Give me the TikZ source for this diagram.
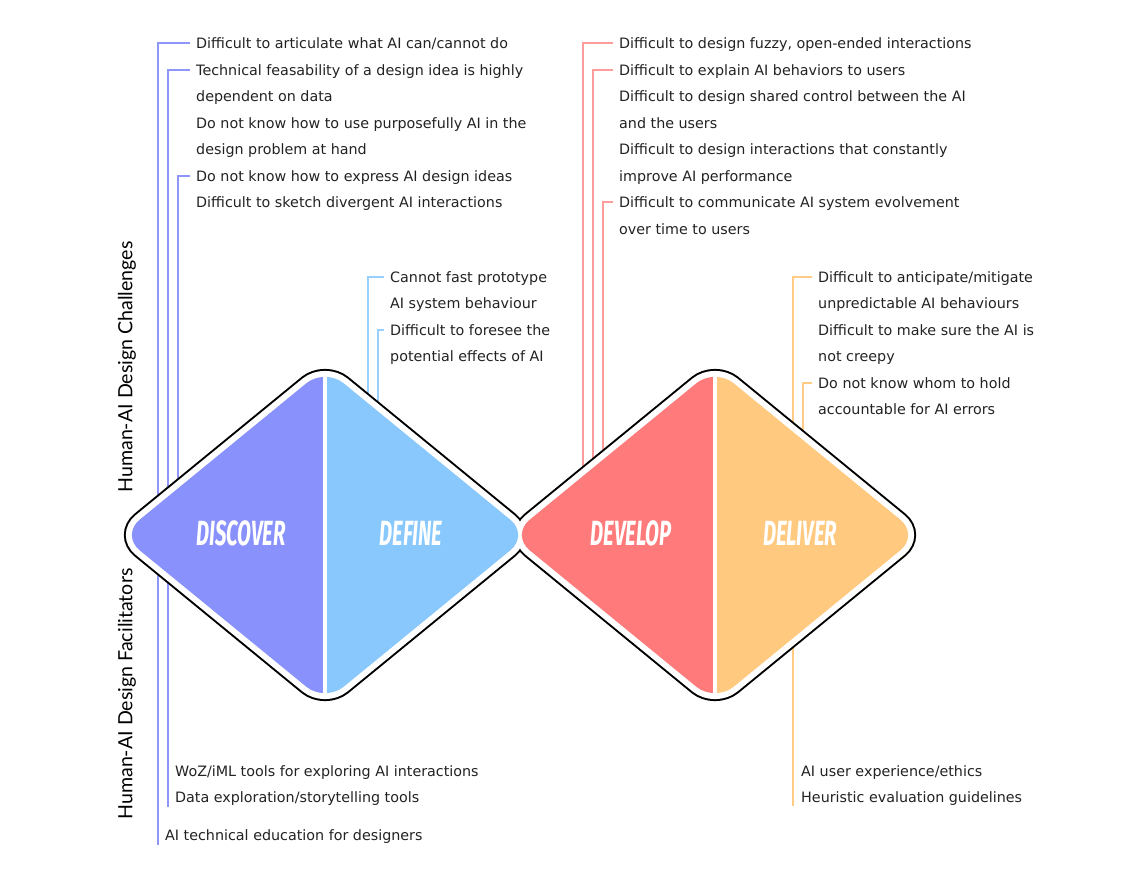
\documentclass[tikz,border=0pt]{standalone}
\usepackage{fontspec}
\setmainfont{DejaVu Sans}
\newfontfamily\sidefont{Lato}
\newfontfamily\phasefont[FakeStretch=0.58]{Fira Sans}
\usetikzlibrary{positioning}
\definecolor{discover}{HTML}{8891FC}
\definecolor{define}{HTML}{88C8FD}
\definecolor{develop}{HTML}{FF7B7B}
\definecolor{deliver}{HTML}{FFC980}
\definecolor{discline}{HTML}{8F96FA}
\definecolor{defline}{HTML}{98CFFF}
\definecolor{devline}{HTML}{FF9C9C}
\definecolor{delline}{HTML}{FFCB85}
\definecolor{txt}{HTML}{222222}

\begin{document}
\begin{tikzpicture}[x=1pt, y=-1pt,
  item/.style={anchor=west, inner xsep=6pt, inner ysep=0pt, text height=10.4pt, text depth=0pt,
    text=txt, font=\fontsize{14.3}{17}\selectfont},
  tick/.style={line width=1.5pt},
  outline/.style={draw=black, line width=16pt, rounded corners=24pt},
  gap/.style={draw=white, fill=white, line width=12pt, rounded corners=24pt},
  half/.style={rounded corners=24pt},
  phase/.style={text=white, font=\phasefont\bfseries\itshape\fontsize{35}{40}\selectfont},
  side/.style={rotate=90, font=\sidefont\fontsize{19.6}{22}\selectfont}]
	\useasboundingbox (0,0) rectangle (1136,878);

	% discover: challenges
	\node[item] (dc1) at (190,43) {Difficult to articulate what AI can/cannot do};
	\node[item] (dc2) at (190,70) {Technical feasability of a design idea is highly};
	\node[item] (dc2b) at (190,96) {dependent on data};
	\node[item] (dc3) at (190,123) {Do not know how to use purposefully AI in the};
	\node[item] (dc3b) at (190,149) {design problem at hand};
	\node[item] (dc4) at (190,176) {Do not know how to express AI design ideas};
	\node[item] (dc5) at (190,202) {Difficult to sketch divergent AI interactions};
	% discover: facilitators
	\node[item] (df1) at (169,771) {WoZ/iML tools for exploring AI interactions};
	\node[item] (df2) at (169,797) {Data exploration/storytelling tools};
	\node[item] (df3) at (159,835) {AI technical education for designers};
	\coordinate (dcend1) at (158,845);
	\coordinate (dcend2) at (168,807);
	\coordinate (dcend4) at (178,560);
	\draw[tick, discline] (dc1.west) -| (dcend1);
	\draw[tick, discline] (dc2.west) -| (dcend2);
	\draw[tick, discline] (dc4.west) -| (dcend4);

	% define
	\node[item] (fc1) at (384,277) {Cannot fast prototype};
	\node[item] (fc1b) at (384,303) {AI system behaviour};
	\node[item] (fc2) at (384,330) {Difficult to foresee the};
	\node[item] (fc2b) at (384,356) {potential effects of AI};
	\coordinate (fcend1) at (368,460);
	\coordinate (fcend2) at (378,460);
	\draw[tick, defline] (fc1.west) -| (fcend1);
	\draw[tick, defline] (fc2.west) -| (fcend2);

	% develop
	\node[item] (vc1) at (613,43) {Difficult to design fuzzy, open-ended interactions};
	\node[item] (vc2) at (613,70) {Difficult to explain AI behaviors to users};
	\node[item] (vc3) at (613,96) {Difficult to design shared control between the AI};
	\node[item] (vc3b) at (613,123) {and the users};
	\node[item] (vc4) at (613,149) {Difficult to design interactions that constantly};
	\node[item] (vc4b) at (613,176) {improve AI performance};
	\node[item] (vc5) at (613,202) {Difficult to communicate AI system evolvement};
	\node[item] (vc5b) at (613,229) {over time to users};
	\coordinate (vcend1) at (583,560);
	\coordinate (vcend2) at (593,560);
	\coordinate (vcend5) at (603,560);
	\draw[tick, devline] (vc1.west) -| (vcend1);
	\draw[tick, devline] (vc2.west) -| (vcend2);
	\draw[tick, devline] (vc5.west) -| (vcend5);

	% deliver
	\node[item] (lc1) at (812,277) {Difficult to anticipate/mitigate};
	\node[item] (lc1b) at (812,303) {unpredictable AI behaviours};
	\node[item] (lc2) at (812,330) {Difficult to make sure the AI is};
	\node[item] (lc2b) at (812,356) {not creepy};
	\node[item] (lc3) at (812,383) {Do not know whom to hold};
	\node[item] (lc3b) at (812,409) {accountable for AI errors};
	\node[item] (lf1) at (795,771) {AI user experience/ethics};
	\node[item] (lf2) at (795,797) {Heuristic evaluation guidelines};
	\coordinate (lcend1) at (793,806);
	\coordinate (lcend3) at (803,600);
	\draw[tick, delline] (lc1.west) -| (lcend1);
	\draw[tick, delline] (lc3.west) -| (lcend3);

	% double diamond
	\path[outline] (223,451.5) -- (325,368) -- (529,535) -- (325,702) -- (121,535) -- cycle;
	\path[outline] (613,451.5) -- (715,368) -- (919,535) -- (715,702) -- (511,535) -- cycle;
	\path[gap] (223,451.5) -- (325,368) -- (529,535) -- (325,702) -- (121,535) -- cycle;
	\path[gap] (613,451.5) -- (715,368) -- (919,535) -- (715,702) -- (511,535) -- cycle;
	\begin{scope}
		\clip (110,360) rectangle (325,710);
		\fill[half, discover] (223,451.5) -- (325,368) -- (529,535) -- (325,702) -- (121,535) -- cycle;
	\end{scope}
	\begin{scope}
		\clip (325,360) rectangle (540,710);
		\fill[half, define] (223,451.5) -- (325,368) -- (529,535) -- (325,702) -- (121,535) -- cycle;
	\end{scope}
	\begin{scope}
		\clip (500,360) rectangle (715,710);
		\fill[half, develop] (613,451.5) -- (715,368) -- (919,535) -- (715,702) -- (511,535) -- cycle;
	\end{scope}
	\begin{scope}
		\clip (715,360) rectangle (930,710);
		\fill[half, deliver] (613,451.5) -- (715,368) -- (919,535) -- (715,702) -- (511,535) -- cycle;
	\end{scope}
	\draw[white, line width=3.5pt] (325,373) -- (325,697);
	\draw[white, line width=3.5pt] (715,373) -- (715,697);

	\node[phase] (discover) at (241,533) {DISCOVER};
	\node[phase] (define) at (411,533) {DEFINE};
	\node[phase] (develop) at (631,533) {DEVELOP};
	\node[phase] (deliver) at (800,533) {DELIVER};

	\node[side] (challenges) at (127,367) {Human-AI Design Challenges};
	\node[side] (facilitators) at (127,694) {Human-AI Design Facilitators};
\end{tikzpicture}
\end{document}
